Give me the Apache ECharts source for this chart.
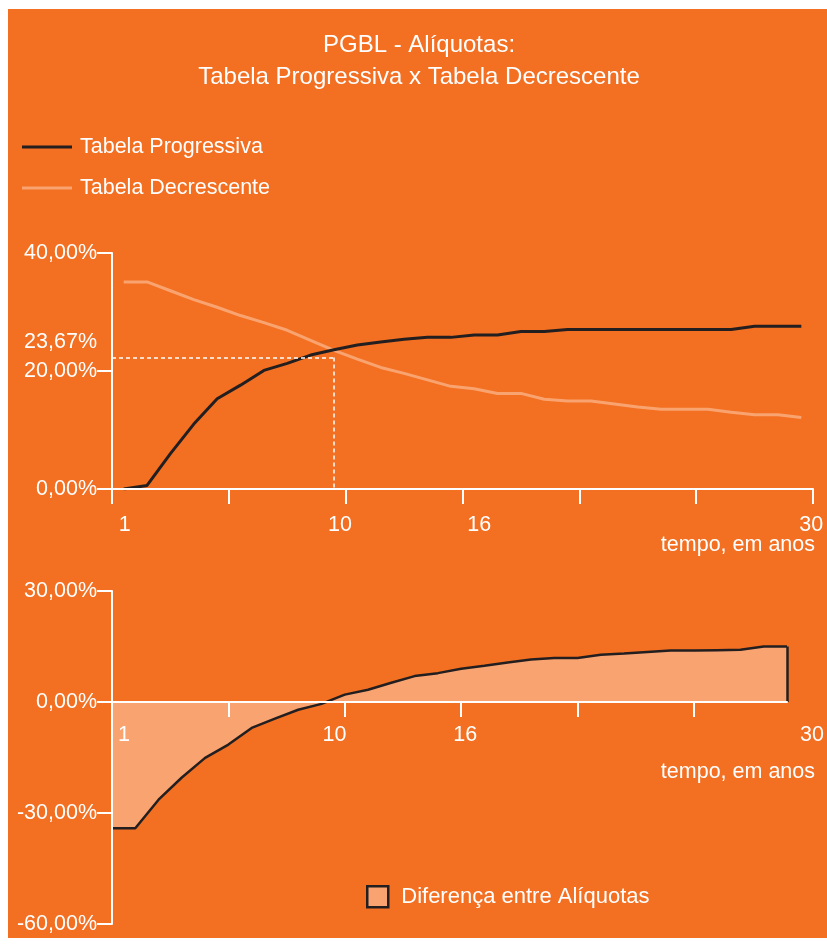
<!DOCTYPE html>
<html>
<head>
<meta charset="utf-8">
<title>PGBL - Alíquotas</title>
<script src="https://cdn.jsdelivr.net/npm/echarts@6/dist/echarts.min.js"></script>
<style>
  html, body { margin: 0; padding: 0; background: #fff; }
  #panel { position: absolute; left: 8px; top: 9px; width: 819px; height: 929px; background: #f36f21; }
  #chart { position: absolute; left: 0; top: 0; width: 827px; height: 948px; }
</style>
</head>
<body>
<div id="panel"></div>
<div id="chart"></div>
<script>
// anos do plano (eixo x dos dois graficos)
var anos = ['1', '2', '3', '4', '5', '6', '7', '8', '9', '10',
            '11', '12', '13', '14', '15', '16', '17', '18', '19', '20',
            '21', '22', '23', '24', '25', '26', '27', '28', '29', '30'];
// rotulos do eixo x que aparecem
var anosRotulo = ['1', '10', '16', '30'];

// aliquota efetiva media (%)
var progressiva = [0, 0.6, 6.0, 11.0, 15.3, 17.6, 20.1, 21.3, 22.7, 23.6,
                   24.4, 24.9, 25.4, 25.7, 25.7, 26.1, 26.1, 26.7, 26.7, 27.05,
                   27.05, 27.05, 27.05, 27.05, 27.05, 27.05, 27.05, 27.6, 27.6, 27.6];
var decrescente = [35.1, 35.1, 33.6, 32.1, 30.8, 29.4, 28.2, 26.9, 25.2, 23.5,
                   22.0, 20.6, 19.6, 18.5, 17.4, 17.0, 16.2, 16.2, 15.2, 14.9,
                   14.9, 14.4, 13.9, 13.5, 13.5, 13.5, 13.0, 12.6, 12.6, 12.1];
var diferenca = [-34.1, -34.1, -26.4, -20.4, -15.1, -11.5, -7.0, -4.5, -2.1, -0.5,
                 2.0, 3.3, 5.2, 7.0, 7.8, 9.0, 9.8, 10.7, 11.5, 11.9,
                 11.9, 12.8, 13.1, 13.5, 13.9, 13.9, 14.0, 14.1, 15.0, 15.0];

// linha tracejada de referencia
var anoCruzamento = '10';
var valorCruzamento = 22.3;
var rotuloCruzamento = '23,67%';

var ticksTopo = [0, 20, 40];
var ticksBase = [-60, -30, 0, 30];

var FONTE = "'Liberation Sans', Arial, sans-serif";
var TAM = 21.5;
var LARANJA_CLARO = '#f9a470';
var PRETO = '#231f20';
var BRANCO = '#ffffff';

function pct(v) {
    return v.toFixed(2).replace('.', ',') + '%';
}

// desloca os rotulos do eixo x (em px) como no original
function richRotulos(desloc) {
    var rich = {};
    anosRotulo.forEach(function (a) {
        var d = desloc[a] || 0;
        rich['l' + a] = {
            color: BRANCO, fontSize: TAM, fontFamily: FONTE,
            padding: d >= 0 ? [0, 0, 0, 2 * d] : [0, -2 * d, 0, 0]
        };
    });
    return rich;
}

function eixoX(grid, boundaryGap, desloc, margem, nomeGap, nomePad, offset) {
    return {
        type: 'category',
        gridIndex: grid,
        data: anos,
        boundaryGap: boundaryGap,
        position: 'bottom',
        offset: offset,
        z: 5,
        axisLine: { show: true, onZero: false, lineStyle: { color: BRANCO, width: 2 } },
        axisTick: { show: true, interval: 4, length: 15, lineStyle: { color: BRANCO, width: 2 } },
        axisLabel: {
            interval: function (i, v) { return anosRotulo.indexOf(v) >= 0; },
            formatter: function (v) { return '{l' + v + '|' + v + '}'; },
            rich: richRotulos(desloc),
            margin: margem,
            color: BRANCO, fontSize: TAM, fontFamily: FONTE
        },
        splitLine: { show: false },
        name: 'tempo, em anos',
        nameLocation: 'end',
        nameGap: nomeGap,
        nameMoveOverlap: false,
        nameTextStyle: {
            color: BRANCO, fontSize: TAM, fontFamily: FONTE,
            align: 'right', verticalAlign: 'top', padding: [nomePad, 0, 0, 0]
        }
    };
}

function eixoY(grid, ticks) {
    return {
        type: 'value',
        gridIndex: grid,
        min: ticks[0],
        max: ticks[ticks.length - 1],
        interval: ticks[1] - ticks[0],
        z: 5,
        axisLine: { show: true, lineStyle: { color: BRANCO, width: 2 } },
        axisTick: { show: true, length: 15, lineStyle: { color: BRANCO, width: 2 } },
        axisLabel: { formatter: pct, margin: 15, color: BRANCO, fontSize: TAM, fontFamily: FONTE },
        splitLine: { show: false }
    };
}

var gridTopo = { left: 112, top: 253, width: 701, height: 236, outerBoundsMode: 'none' };
var gridBase = { left: 112, top: 591, width: 675, height: 333, outerBoundsMode: 'none' };

// eixo x do grafico de baixo fica na linha do zero
var offsetZeroBase = -gridBase.height * (0 - ticksBase[0]) / (ticksBase[ticksBase.length - 1] - ticksBase[0]);

var chart = echarts.init(document.getElementById('chart'));

chart.setOption({
    animation: false,
    backgroundColor: 'transparent',
    title: {
        text: 'PGBL - Alíquotas:\nTabela Progressiva x Tabela Decrescente',
        left: 419,
        top: 29,
        padding: 0,
        textAlign: 'center',
        textStyle: { color: BRANCO, fontSize: 24, fontWeight: 'normal', fontFamily: FONTE, lineHeight: 32 }
    },
    legend: [{
        data: [
            { name: 'Tabela Progressiva', icon: 'rect', itemStyle: { color: PRETO } },
            { name: 'Tabela Decrescente', icon: 'rect', itemStyle: { color: LARANJA_CLARO } }
        ],
        orient: 'vertical',
        left: 22,
        top: 132,
        padding: 0,
        itemWidth: 50,
        itemHeight: 3,
        itemGap: 11,
        selectedMode: false,
        textStyle: { color: BRANCO, fontSize: TAM, fontFamily: FONTE, lineHeight: 30, padding: [0, 0, 0, 3] }
    }, {
        data: [{
            name: 'Diferença entre Alíquotas',
            icon: 'rect',
            itemStyle: { color: LARANJA_CLARO, borderColor: PRETO, borderWidth: 2.5 }
        }],
        left: 366,
        top: 885,
        padding: 0,
        itemWidth: 21,
        itemHeight: 21,
        selectedMode: false,
        textStyle: { color: BRANCO, fontSize: 22, fontFamily: FONTE, lineHeight: 22, padding: [0, 0, 0, 8] }
    }],
    grid: [gridTopo, gridBase],
    xAxis: [
        eixoX(0, true, { '1': 1, '10': 6, '16': 5, '30': 10 }, 25, 2, 45, 0),
        eixoX(1, false, { '1': 12, '10': 13, '16': 4, '30': 25 }, 22, 28, 59, offsetZeroBase)
    ],
    yAxis: [eixoY(0, ticksTopo), eixoY(1, ticksBase)],
    series: [{
        name: 'Tabela Decrescente',
        type: 'line',
        xAxisIndex: 0,
        yAxisIndex: 0,
        data: decrescente,
        symbol: 'none',
        color: LARANJA_CLARO,
        lineStyle: { color: LARANJA_CLARO, width: 3 }
    }, {
        name: 'Tabela Progressiva',
        type: 'line',
        xAxisIndex: 0,
        yAxisIndex: 0,
        data: progressiva,
        symbol: 'none',
        color: PRETO,
        lineStyle: { color: PRETO, width: 3 },
        markLine: {
            silent: true,
            symbol: ['none', 'none'],
            lineStyle: { color: BRANCO, width: 1.5, type: [4, 3] },
            label: { show: false },
            data: [
                [{
                    coord: [anos[0], valorCruzamento],
                    x: gridTopo.left,
                    label: {
                        show: true, position: 'start', formatter: rotuloCruzamento,
                        color: BRANCO, fontSize: TAM, fontFamily: FONTE,
                        distance: 15, verticalAlign: 'bottom', lineHeight: 30
                    }
                }, { coord: [anoCruzamento, valorCruzamento] }],
                [{ coord: [anoCruzamento, valorCruzamento] }, { coord: [anoCruzamento, 0] }]
            ]
        }
    }, {
        name: 'Diferença entre Alíquotas',
        type: 'line',
        xAxisIndex: 1,
        yAxisIndex: 1,
        data: diferenca,
        symbol: 'none',
        color: PRETO,
        lineStyle: { color: PRETO, width: 2.5 },
        areaStyle: { color: LARANJA_CLARO, opacity: 1 },
        markLine: {
            silent: true,
            symbol: ['none', 'none'],
            lineStyle: { color: PRETO, width: 2.5, type: 'solid' },
            label: { show: false },
            data: [
                [{ coord: [anos[anos.length - 1], diferenca[diferenca.length - 1]] },
                 { coord: [anos[anos.length - 1], 0] }]
            ]
        }
    }]
});
</script>
</body>
</html>
